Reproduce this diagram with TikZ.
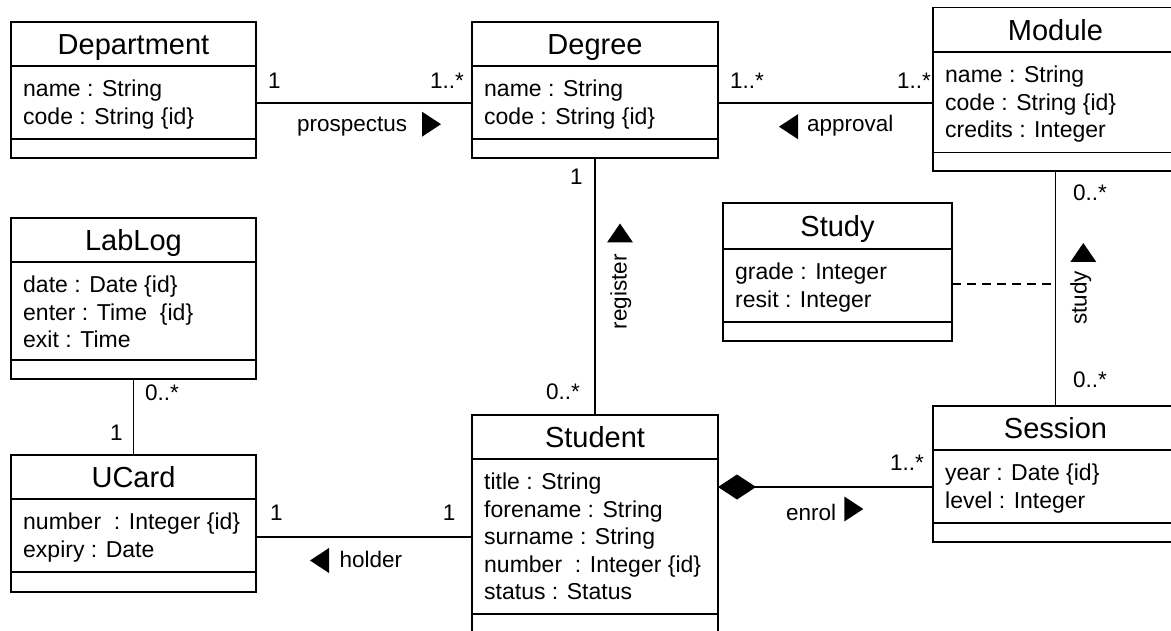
\documentclass[tikz,border=0pt]{standalone}
\usepackage{fontspec}
\setmainfont{Liberation Sans}
\usetikzlibrary{arrows.meta}

% class box: name, x, y, width, height, title rule offset, attribute rule offset, title
\newcommand\umlclass[8]{%
  \node[box, minimum width=#4pt, minimum height=#5pt] (#1) at (#2,#3) {};
  \coordinate (#1-s1) at ([yshift=-#6pt]#1.north west);
  \coordinate (#1-s2) at ([yshift=-#7pt]#1.north west);
  \draw[rule] (#1-s1) -- (#1-s1 -| #1.east);
  \draw[rule] (#1-s2) -- (#1-s2 -| #1.east);
  \node[ctitle] (#1-t) at ([yshift={-(#6/2+10.5)*1pt}]#1.north) {#8};
}
% attribute lines below the title rule
\newcommand\umlattrs[2]{%
  \foreach \attrtext [count=\i] in {#2} {
    \node[attr] (#1-a\i) at ([xshift=12pt, yshift={-(30.8+27.4*(\i-1))*1pt}]#1-s1) {\attrtext};
  }
}

\begin{document}
\begin{tikzpicture}[x=1pt,y=-1pt,
  box/.style={draw, line width=1.9pt, inner sep=0pt, outer sep=0pt, anchor=north west},
  rule/.style={line width=1.9pt},
  ctitle/.style={font=\fontsize{29}{33}\selectfont, anchor=base, inner sep=0pt},
  attr/.style={font=\fontsize{23}{27}\selectfont, anchor=base west, inner sep=0pt},
  lbl/.style={font=\fontsize{22.5}{27}\selectfont, anchor=base west, inner sep=0pt},
  assoc/.style={line width=1.8pt},
  dir/.style={fill=black}]

\useasboundingbox (0,0) rectangle (1171,631);
\clip (0,0) rectangle (1171,631);

% ---- classes ----
\umlclass{dept}{11}{22}{245}{136}{44}{117}{Department}
\umlattrs{dept}{name : String, code : String \{id\}}

\umlclass{degree}{472}{22}{246}{136}{44}{117}{Degree}
\umlattrs{degree}{name : String, code : String \{id\}}

\umlclass{module}{933}{7.5}{245}{163.5}{44.5}{145}{Module}
\umlattrs{module}{name : String, code : String \{id\}, credits : Integer}

\umlclass{lablog}{11}{218}{245}{161}{44}{142}{LabLog}
\umlattrs{lablog}{date : Date \{id\}, enter : Time\ \ \{id\}, exit : Time}

\umlclass{study}{723}{203}{229}{138}{46}{119}{Study}
\umlattrs{study}{grade : Integer, resit : Integer}

\umlclass{ucard}{11}{455}{245}{137}{44}{117}{UCard}
\umlattrs{ucard}{number\ \ : Integer \{id\}, expiry : Date}

\umlclass{student}{472}{415}{246}{240}{44}{199}{Student}
\umlattrs{student}{title : String, forename : String, surname : String, number\ \ : Integer \{id\}, status : Status}

\umlclass{session}{933}{406}{245}{136}{44}{117}{Session}
\umlattrs{session}{year : Date \{id\}, level : Integer}

% ---- associations ----
% prospectus
\draw[assoc] (dept.east |- 0,103) -- (degree.west |- 0,103);
\node[lbl] (pr-m1) at (268,89) {1};
\node[lbl] (pr-m2) at (430,89) {1..*};
\node[lbl] (pr-l) at (297,132) {prospectus};
\fill[dir] (441,124.2) -- ++(-19,-12.5) -- ++(0,25) -- cycle;

% approval
\draw[assoc] (degree.east |- 0,103) -- (module.west |- 0,103);
\node[lbl] (ap-m1) at (730,89) {1..*};
\node[lbl] (ap-m2) at (897,89) {1..*};
\node[lbl] (ap-l) at (807,132) {approval};
\fill[dir] (779,126.7) -- ++(19,-12.5) -- ++(0,25) -- cycle;

% register
\draw[assoc] (degree.south) -- (student.north);
\node[lbl] (rg-m1) at (570,185) {1};
\node[lbl] (rg-m2) at (546,399.3) {0..*};
\node[lbl, anchor=base, rotate=90] (rg-l) at (626.7,291.7) {register};
\fill[dir] (620,223.5) -- ++(-13,19) -- ++(26,0) -- cycle;

% study
\draw[assoc] (module.south) -- (session.north);
\coordinate (studylink) at (module.south |- 0,284);
\draw[assoc, line width=1.6pt, dash pattern=on 9pt off 6pt] (study.east |- 0,284) -- (studylink);
\node[lbl] (st-m1) at (1073,200.7) {0..*};
\node[lbl] (st-m2) at (1073,387.3) {0..*};
\node[lbl, anchor=base, rotate=90] (st-l) at (1086.7,298) {study};
\fill[dir] (1083.3,243) -- ++(-13,19) -- ++(26,0) -- cycle;

% lab log
\draw[assoc] (lablog.south) -- (ucard.north);
\node[lbl] (lb-m1) at (145,400) {0..*};
\node[lbl] (lb-m2) at (110,440) {1};

% holder
\draw[assoc] (ucard.east |- 0,537) -- (student.west |- 0,537);
\node[lbl] (ho-m1) at (270,520.7) {1};
\node[lbl] (ho-m2) at (442.7,520.7) {1};
\node[lbl] (ho-l) at (339.3,567.7) {holder};
\fill[dir] (310,560.5) -- ++(19,-12.5) -- ++(0,25) -- cycle;

% enrol (composition)
\draw[assoc, {Diamond[length=38pt,width=25pt]}-] (student.east |- 0,487) -- (session.west |- 0,487);
\node[lbl] (en-m1) at (890,470.7) {1..*};
\node[lbl] (en-l) at (786,520) {enrol};
\fill[dir] (863.3,509) -- ++(-19,-12.5) -- ++(0,25) -- cycle;

\end{tikzpicture}
\end{document}
